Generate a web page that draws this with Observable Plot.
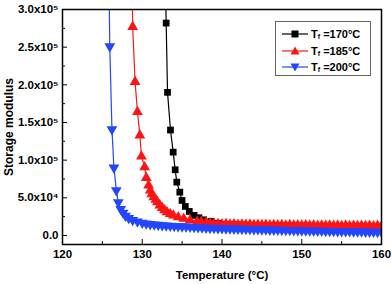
<!DOCTYPE html>
<html>
<head>
<meta charset="utf-8">
<script src="https://cdn.jsdelivr.net/npm/d3@7"></script>
<script src="https://cdn.jsdelivr.net/npm/@observablehq/plot@0.6"></script>
<style>
  body { margin: 0; background: #fff; }
  #wrap { position: relative; width: 392px; height: 284px; font-family: "Liberation Sans", Arial, sans-serif; }
  #legend { position: absolute; left: 275px; top: 21px; width: 96px; height: 55px; border: 1px solid #666; background: #fff; box-sizing: border-box; padding-top: 4px; }
  .row { display: flex; align-items: center; height: 16.5px; font-weight: bold; font-size: 11px; color: #000; }
  .row svg { margin-left: 6px; margin-right: 3px; }
  sub { font-size: 7px; vertical-align: -1px; }
</style>
</head>
<body>
<div id="wrap"></div>
<script>
// Tf = 170 °C
const t170 = [132.85, 133.0, 133.17, 133.54, 133.88, 134.13, 134.33, 134.71, 134.99, 135.4, 135.9, 136.5, 137.1, 137.7, 138.6, 139.5, 140.5, 141.5, 142.5, 143.5, 144.5, 145.5, 146.5, 147.5, 148.5, 149.5, 150.5, 151.5, 152.5, 153.5, 154.5, 155.5, 156.5, 157.5, 158.5, 159.5];
const g170 = [360000, 282000, 190000, 140000, 110600, 87200, 70800, 57500, 46500, 38500, 31900, 26600, 23500, 20800, 18600, 16000, 14800, 14300, 14000, 13700, 13500, 13300, 13100, 13000, 12800, 12700, 12600, 12400, 12300, 12200, 12100, 12000, 11900, 11800, 11700, 11600];
// Tf = 185 °C
const t185 = [128.7, 128.8, 129.1, 129.4, 129.7, 129.9, 130.3, 130.5, 130.8, 131.0, 131.2, 131.45, 131.7, 131.9, 132.2, 132.5, 132.8, 133.1, 133.5, 133.9, 134.5, 135.2, 136.0, 136.9, 137.4, 138.0, 138.5, 139.0, 139.5, 140.0, 140.5, 141.0, 141.5, 142.0, 142.5, 143.0, 143.5, 144.0, 144.5, 145.0, 145.5, 146.0, 146.5, 147.0, 147.5, 148.0, 148.5, 149.0, 149.5, 150.0, 150.5, 151.0, 151.5, 152.0, 152.5, 153.0, 153.5, 154.0, 154.5, 155.0, 155.5, 156.0, 156.5, 157.0, 157.5, 158.0, 158.5, 159.0, 159.5, 160.0];
const g185 = [360000, 277000, 204000, 164000, 133000, 105000, 90700, 76600, 66400, 59700, 55000, 50900, 47500, 44200, 40000, 36700, 33500, 31000, 28500, 26600, 24300, 22200, 20300, 18600, 17800, 17000, 16200, 15500, 15400, 14800, 15100, 14500, 14900, 14300, 14600, 14100, 14500, 13900, 14300, 13800, 14200, 13700, 14000, 13500, 13900, 13400, 13800, 13300, 13700, 13200, 13600, 13100, 13500, 13000, 13400, 12900, 13300, 12800, 13200, 12700, 13100, 12700, 13000, 12600, 12900, 12500, 12900, 12400, 12800, 12400];
// Tf = 200 °C
const t200 = [125.8, 125.93, 126.2, 126.45, 126.75, 127.0, 127.3, 127.6, 127.9, 128.3, 128.8, 129.4, 130.0, 130.5, 131.0, 131.5, 132.0, 132.5, 133.0, 133.5, 134.0, 134.5, 135.0, 135.5, 136.0, 136.5, 137.0, 137.5, 138.0, 138.5, 139.0, 139.5, 140.0, 140.5, 141.0, 141.5, 142.0, 142.5, 143.0, 143.5, 144.0, 144.5, 145.0, 145.5, 146.0, 146.5, 147.0, 147.5, 148.0, 148.5, 149.0, 149.5, 150.0, 150.5, 151.0, 151.5, 152.0, 152.5, 153.0, 153.5, 154.0, 154.5, 155.0, 155.5, 156.0, 156.5, 157.0, 157.5, 158.0, 158.5, 159.0, 159.5, 160.0];
const g200 = [360000, 251000, 141000, 90000, 60000, 44000, 35000, 30000, 26000, 23000, 20500, 18500, 16800, 15800, 15000, 14500, 14000, 13500, 13200, 12800, 12500, 12200, 12000, 11700, 11400, 11100, 10800, 10500, 10200, 10000, 9800, 9600, 9400, 9200, 9100, 9000, 8800, 8700, 8600, 8400, 8300, 8100, 8000, 7900, 7700, 7600, 7500, 7300, 7200, 7100, 7000, 6800, 6700, 6600, 6500, 6300, 6200, 6100, 6000, 5900, 5800, 5700, 5600, 5500, 5400, 5300, 5200, 5100, 5000, 4900, 4800, 4700, 4600];

const xTicks = [120, 130, 140, 150, 160];
const xMinor = [125, 135, 145, 155];
const yTicks = [0, 50000, 100000, 150000, 200000, 250000, 300000];
const yMinor = [25000, 75000, 125000, 175000, 225000, 275000];
const yTickLabels = ["0.0", "5.0x10\u2074", "1.0x10\u2075", "1.5x10\u2075", "2.0x10\u2075", "2.5x10\u2075", "3.0x10\u2075"];

const names = ["Tf =170°C", "Tf =185°C", "Tf =200°C"];
const colors = ["#000000", "#ff1414", "#2346ff"];

const triangleDown = {
  draw(context, size) {
    const s3 = Math.sqrt(3);
    const y = -Math.sqrt(size / (s3 * 3));
    context.moveTo(0, -y * 2);
    context.lineTo(-s3 * y, y);
    context.lineTo(s3 * y, y);
    context.closePath();
  }
};

const mk = (t, g) => t.map((x, i) => ({x, y: g[i]}));
const d170 = mk(t170, g170), d185 = mk(t185, g185), d200 = mk(t200, g200);

const font = '"Liberation Sans", Arial, sans-serif';

const chart = Plot.plot({
  width: 392,
  height: 284,
  marginLeft: 62,
  marginRight: 11,
  marginTop: 9,
  marginBottom: 40,
  style: { fontFamily: font, fontSize: "11px", fontWeight: "bold", color: "#000", background: "#fff" },
  x: { domain: [120, 160] },
  y: { domain: [-12000, 300000] },
  marks: [
    Plot.line(d170, { x: "x", y: "y", stroke: colors[0], strokeWidth: 1.2, clip: true }),
    Plot.dot(d170, { x: "x", y: "y", symbol: "square", r: 3.8, fill: colors[0], stroke: "none", clip: true }),
    Plot.line(d185, { x: "x", y: "y", stroke: colors[1], strokeWidth: 1.2, clip: true }),
    Plot.dot(d185, { x: "x", y: "y", symbol: "triangle", r: 4, fill: colors[1], stroke: "none", clip: true }),
    Plot.line(d200, { x: "x", y: "y", stroke: colors[2], strokeWidth: 1.2, clip: true }),
    Plot.dot(d200, { x: "x", y: "y", symbol: triangleDown, r: 4, fill: colors[2], stroke: "none", clip: true }),
    Plot.frame({ stroke: "#000", strokeWidth: 1.5 }),
    Plot.axisX({ ticks: xTicks, tickSize: -5, text: null, label: null }),
    Plot.axisX({ ticks: xMinor, tickSize: -3, text: null, label: null }),
    Plot.axisX({ ticks: xTicks, tickSize: 0, tickPadding: 5, tickFormat: d => String(d), fontWeight: "bold", fontSize: 11.5,
      label: "Temperature (°C)", labelAnchor: "center", labelOffset: 34, labelArrow: "none" }),
    Plot.axisY({ ticks: yTicks, tickSize: -5, text: null, label: null }),
    Plot.axisY({ ticks: yMinor, tickSize: -3, text: null, label: null }),
    Plot.axisY({ ticks: yTicks, tickSize: 0, tickPadding: 4, tickFormat: d => yTickLabels[yTicks.indexOf(d)], fontWeight: "bold", fontSize: 11.5, label: null }),
    Plot.axisY({ ticks: [], tickSize: 0, label: "Storage modulus", labelAnchor: "center", labelOffset: 58, labelArrow: "none", fontWeight: "bold", fontSize: 12 })
  ]
});

const wrap = document.getElementById("wrap");
wrap.appendChild(chart);

// legend
const legend = document.createElement("div");
legend.id = "legend";
const symbols = ["square", "up", "down"];
names.forEach((n, i) => {
  const row = document.createElement("div");
  row.className = "row";
  const c = colors[i];
  let shape;
  if (symbols[i] === "square") shape = `<rect x="9.5" y="2.5" width="7" height="7" fill="${c}"/>`;
  else if (symbols[i] === "up") shape = `<path d="M13,1.5 L17.5,9.5 L8.5,9.5 Z" fill="${c}"/>`;
  else shape = `<path d="M13,10.5 L17.5,2.5 L8.5,2.5 Z" fill="${c}"/>`;
  row.innerHTML = `<svg width="26" height="12"><line x1="0" x2="26" y1="6" y2="6" stroke="${c}" stroke-width="1.2"/>${shape}</svg><span>T<sub>f</sub> ${n.slice(3)}</span>`;
  legend.appendChild(row);
});
wrap.appendChild(legend);
</script>
</body>
</html>
